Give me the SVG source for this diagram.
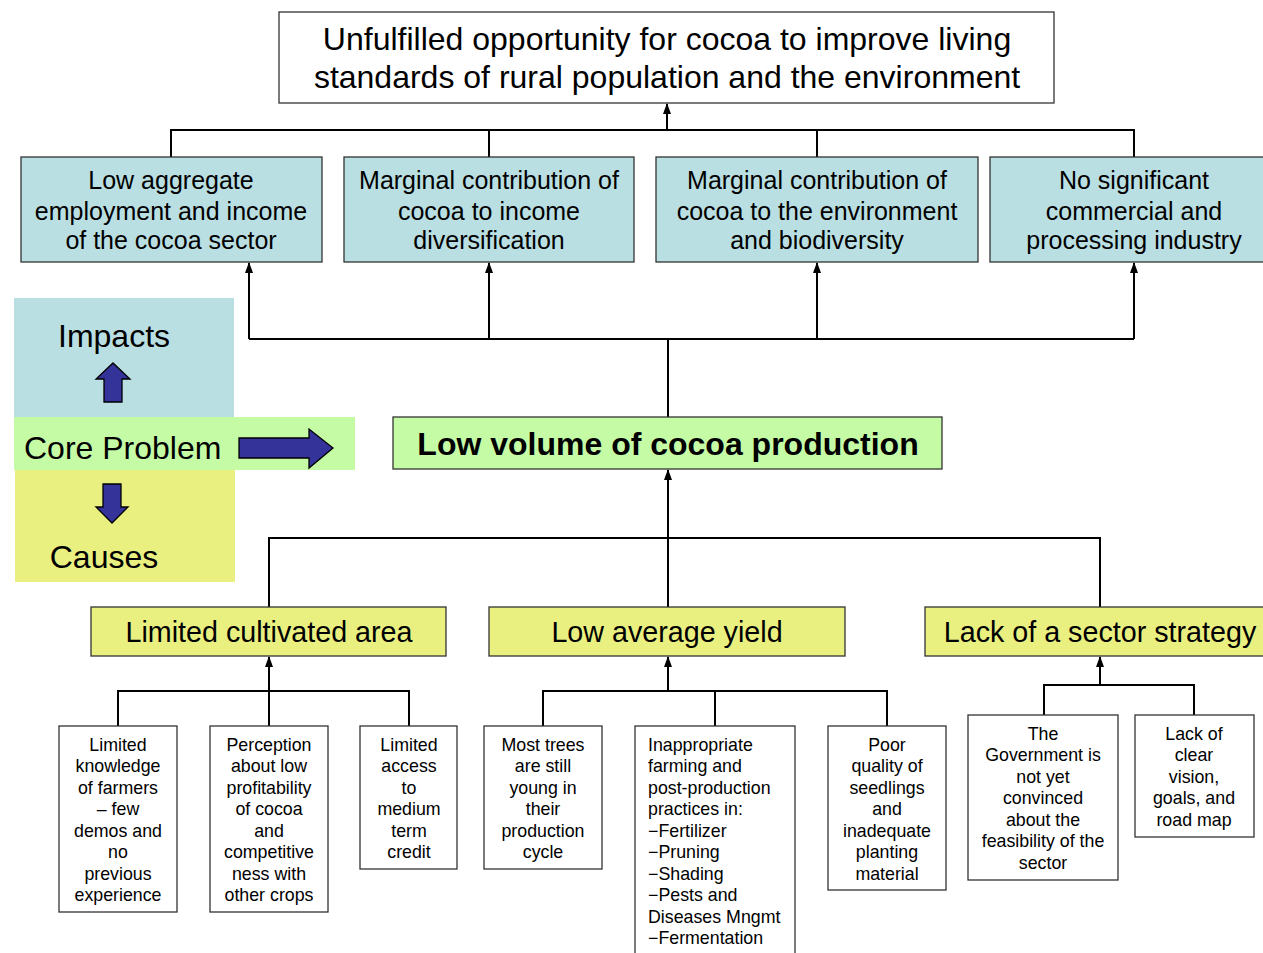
<svg xmlns="http://www.w3.org/2000/svg" width="1263" height="953" viewBox="0 0 1263 953">
<defs>
<marker id="ah" markerWidth="11" markerHeight="8" refX="10" refY="4" orient="auto" markerUnits="userSpaceOnUse" viewBox="0 0 11 8">
<path d="M0,0 L11,4 L0,8 Z" fill="#000"/>
</marker>
<style>
text{font-family:"Liberation Sans",Arial,sans-serif;fill:#000}
.box{stroke:#333;stroke-width:1.3}
.imp{fill:#badfe2}
.cause{fill:#e9f080}
.core{fill:#c6fba6}
.wb{fill:#fff}
.c{text-anchor:middle}
.t24{font-size:25px}
.t28{font-size:28.7px}
.t30{font-size:32px}
.s{font-size:17.8px}
.ln{fill:none;stroke:#000;stroke-width:2}
.big{fill:#333399;stroke:#000;stroke-width:1.3}
</style>
</defs>

<g id="legend">
<rect x="14" y="298" width="220" height="119" fill="#badfe2"/>
<rect x="15" y="470" width="220" height="112" fill="#e9f080"/>
<rect x="14" y="417" width="341" height="53" fill="#c6fba6"/>
<text x="114" y="347" class="t30 c">Impacts</text>
<path class="big" d="M104,402 L104,379 L96,379 L113,363 L130,379 L122,379 L122,402 Z"/>
<text x="24" y="459" class="t30">Core Problem</text>
<path class="big" d="M239,438 L309,438 L309,429 L333,448 L309,468 L309,458 L239,458 Z"/>
<path class="big" d="M103,484 L121,484 L121,507 L128,507 L112,523 L96,507 L103,507 Z"/>
<text x="104" y="568" class="t30 c">Causes</text>
</g>

<g id="connectors">
<path class="ln" d="M171,157 V130 H1134 V157 M489,130 V157 M817,130 V157"/>
<line class="ln" x1="667" y1="130" x2="667" y2="104" marker-end="url(#ah)"/>
<path class="ln" d="M249,339 H1134 M668,339 V417"/>
<line class="ln" x1="249" y1="339" x2="249" y2="263" marker-end="url(#ah)"/>
<line class="ln" x1="489" y1="339" x2="489" y2="263" marker-end="url(#ah)"/>
<line class="ln" x1="817" y1="339" x2="817" y2="263" marker-end="url(#ah)"/>
<line class="ln" x1="1134" y1="339" x2="1134" y2="263" marker-end="url(#ah)"/>
<path class="ln" d="M269,607 V538 H1100 V607 M668,538 V607"/>
<line class="ln" x1="668" y1="538" x2="668" y2="470" marker-end="url(#ah)"/>
<path class="ln" d="M118,726 V691 H409 V726 M269,691 V726"/>
<line class="ln" x1="269" y1="691" x2="269" y2="657" marker-end="url(#ah)"/>
<path class="ln" d="M543,726 V691 H887 V726 M715,691 V726"/>
<line class="ln" x1="668" y1="691" x2="668" y2="657" marker-end="url(#ah)"/>
<path class="ln" d="M1044,715 V685 H1194 V715"/>
<line class="ln" x1="1100" y1="685" x2="1100" y2="657" marker-end="url(#ah)"/>
</g>

<g id="goal">
<rect class="box wb" x="279" y="12" width="775" height="91"/>
<text class="t30 c" x="667" y="50">Unfulfilled opportunity for cocoa to improve living</text>
<text class="t30 c" x="667" y="88">standards of rural population and the environment</text>
</g>

<g id="impact1">
<rect class="box imp" x="21" y="157" width="301" height="105"/>
<text class="t24 c" x="171" y="189">Low aggregate</text>
<text class="t24 c" x="171" y="220">employment and income</text>
<text class="t24 c" x="171" y="249">of the cocoa sector</text>
</g>
<g id="impact2">
<rect class="box imp" x="344" y="157" width="290" height="105"/>
<text class="t24 c" x="489" y="189">Marginal contribution of</text>
<text class="t24 c" x="489" y="220">cocoa to income</text>
<text class="t24 c" x="489" y="249">diversification</text>
</g>
<g id="impact3">
<rect class="box imp" x="656" y="157" width="322" height="105"/>
<text class="t24 c" x="817" y="189">Marginal contribution of</text>
<text class="t24 c" x="817" y="220">cocoa to the environment</text>
<text class="t24 c" x="817" y="249">and biodiversity</text>
</g>
<g id="impact4">
<rect class="box imp" x="990" y="157" width="280" height="105"/>
<text class="t24 c" x="1134" y="189">No significant</text>
<text class="t24 c" x="1134" y="220">commercial and</text>
<text class="t24 c" x="1134" y="249">processing industry</text>
</g>

<g id="core">
<rect class="box core" x="393" y="417" width="549" height="52"/>
<text class="t30 c" x="668" y="455" font-weight="bold">Low volume of cocoa production</text>
</g>

<g id="cause1">
<rect class="box cause" x="91" y="607" width="355" height="49"/>
<text class="t28 c" x="269" y="642">Limited cultivated area</text>
</g>
<g id="cause2">
<rect class="box cause" x="489" y="607" width="356" height="49"/>
<text class="t28 c" x="667" y="642">Low average yield</text>
</g>
<g id="cause3">
<rect class="box cause" x="925" y="607" width="345" height="49"/>
<text class="t28 c" x="1100" y="642">Lack of a sector strategy</text>
</g>

<g id="sub1">
<rect class="box wb" x="59" y="726" width="118" height="186"/>
<text class="s c" x="118"><tspan x="118" y="751">Limited</tspan><tspan x="118" y="772">knowledge</tspan><tspan x="118" y="794">of farmers</tspan><tspan x="118" y="815">– few</tspan><tspan x="118" y="837">demos and</tspan><tspan x="118" y="858">no</tspan><tspan x="118" y="880">previous</tspan><tspan x="118" y="901">experience</tspan></text>
</g>
<g id="sub2">
<rect class="box wb" x="210" y="726" width="118" height="186"/>
<text class="s c" x="269"><tspan x="269" y="751">Perception</tspan><tspan x="269" y="772">about low</tspan><tspan x="269" y="794">profitability</tspan><tspan x="269" y="815">of cocoa</tspan><tspan x="269" y="837">and</tspan><tspan x="269" y="858">competitive</tspan><tspan x="269" y="880">ness with</tspan><tspan x="269" y="901">other crops</tspan></text>
</g>
<g id="sub3">
<rect class="box wb" x="360" y="726" width="97" height="143"/>
<text class="s c" x="409"><tspan x="409" y="751">Limited</tspan><tspan x="409" y="772">access</tspan><tspan x="409" y="794">to</tspan><tspan x="409" y="815">medium</tspan><tspan x="409" y="837">term</tspan><tspan x="409" y="858">credit</tspan></text>
</g>
<g id="sub4">
<rect class="box wb" x="484" y="726" width="118" height="143"/>
<text class="s c" x="543"><tspan x="543" y="751">Most trees</tspan><tspan x="543" y="772">are still</tspan><tspan x="543" y="794">young in</tspan><tspan x="543" y="815">their</tspan><tspan x="543" y="837">production</tspan><tspan x="543" y="858">cycle</tspan></text>
</g>
<g id="sub5">
<rect class="box wb" x="635" y="726" width="160" height="240"/>
<text class="s" x="648"><tspan x="648" y="751">Inappropriate</tspan><tspan x="648" y="772">farming and</tspan><tspan x="648" y="794">post-production</tspan><tspan x="648" y="815">practices in:</tspan><tspan x="648" y="837">−Fertilizer</tspan><tspan x="648" y="858">−Pruning</tspan><tspan x="648" y="880">−Shading</tspan><tspan x="648" y="901">−Pests and</tspan><tspan x="648" y="923">Diseases Mngmt</tspan><tspan x="648" y="944">−Fermentation</tspan></text>
</g>
<g id="sub6">
<rect class="box wb" x="828" y="726" width="118" height="164"/>
<text class="s c" x="887"><tspan x="887" y="751">Poor</tspan><tspan x="887" y="772">quality of</tspan><tspan x="887" y="794">seedlings</tspan><tspan x="887" y="815">and</tspan><tspan x="887" y="837">inadequate</tspan><tspan x="887" y="858">planting</tspan><tspan x="887" y="880">material</tspan></text>
</g>
<g id="sub7">
<rect class="box wb" x="968" y="715" width="150" height="165"/>
<text class="s c" x="1043"><tspan x="1043" y="740">The</tspan><tspan x="1043" y="761">Government is</tspan><tspan x="1043" y="783">not yet</tspan><tspan x="1043" y="804">convinced</tspan><tspan x="1043" y="826">about the</tspan><tspan x="1043" y="847">feasibility of the</tspan><tspan x="1043" y="869">sector</tspan></text>
</g>
<g id="sub8">
<rect class="box wb" x="1135" y="715" width="119" height="122"/>
<text class="s c" x="1194"><tspan x="1194" y="740">Lack of</tspan><tspan x="1194" y="761">clear</tspan><tspan x="1194" y="783">vision,</tspan><tspan x="1194" y="804">goals, and</tspan><tspan x="1194" y="826">road map</tspan></text>
</g>
</svg>
